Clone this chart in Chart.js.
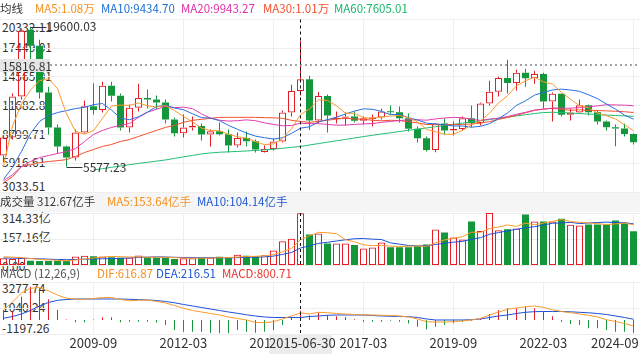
<!DOCTYPE html>
<html>
<head>
<meta charset="utf-8">
<script src="https://cdn.jsdelivr.net/npm/chart.js@4/dist/chart.umd.min.js"></script>
<style>
html,body{margin:0;padding:0;background:#fff}
body{position:relative;width:640px;height:354px;overflow:hidden;font-family:"Noto Sans CJK SC","Noto Sans",sans-serif}
.t{position:absolute;white-space:nowrap;font-size:12px;line-height:14px;color:#333;z-index:2}
canvas{position:absolute;left:0;z-index:1}
#band{position:absolute;left:0;top:192px;width:640px;height:20px;background:#f5f5f5;z-index:0}
</style>
</head>
<body>
<div id="band"></div>
<canvas id="cPrice" width="640" height="198" style="top:0px;width:640px;height:198px"></canvas>
<canvas id="cVol" width="640" height="62" style="top:206px;width:640px;height:62px"></canvas>
<canvas id="cMacd" width="640" height="62" style="top:276px;width:640px;height:62px"></canvas>
<script>
// ---------------- DATA ----------------
const quarters = ['2007-03','2007-06','2007-09','2007-12','2008-03','2008-06','2008-09','2008-12',
'2009-03','2009-06','2009-09','2009-12','2010-03','2010-06','2010-09','2010-12',
'2011-03','2011-06','2011-09','2011-12','2012-03','2012-06','2012-09','2012-12',
'2013-03','2013-06','2013-09','2013-12','2014-03','2014-06','2014-09','2014-12',
'2015-03','2015-06','2015-09','2015-12','2016-03','2016-06','2016-09','2016-12',
'2017-03','2017-06','2017-09','2017-12','2018-03','2018-06','2018-09','2018-12',
'2019-03','2019-06','2019-09','2019-12','2020-03','2020-06','2020-09','2020-12',
'2021-03','2021-06','2021-09','2021-12','2022-03','2022-06','2022-09','2022-12',
'2023-03','2023-06','2023-09','2023-12','2024-03','2024-06','2024-09'];

const openP = [6700,8500,12600,19300,17700,13000,9500,7600,6486,9000,
11630,11250,13700,12680,9500,11470,12460,12300,12000,10300,
8919,9500,9650,8800,9116,8820,7700,8450,8122,7050,
7343,8100,11015,13160,14338,10200,12665,10350,10490,10600,
10177,10350,10500,11100,11040,10440,9380,8420,7240,9906,
9190,9340,10431,9963,11900,13075,14471,13970,15000,14450,
14857,12100,12896,10778,11016,11726,11026,10110,9525,9400,8848];
const highP = [8700,12900,19400,19600.03,18300,13600,9800,7700,9300,12200,
13950,14100,14100,12900,11800,13900,13300,12700,12300,10500,
10800,10600,9900,9300,10000,9300,9000,9100,8300,7700,
8400,11200,13800,18211.76,14700,13050,12800,11100,11000,11100,
10600,10800,11400,11700,11600,10900,9600,8600,9950,10400,
10100,10600,11700,12000,14200,14600,16293,15300,15400,15200,
15000,13000,12900,11400,12300,11800,11200,10200,9800,9900,8900];
const lowP = [6300,8300,12300,16000,12400,8800,6900,5577.23,6200,8900,
10800,11000,12100,9200,9000,11100,11400,11300,9900,8600,
8500,9200,8200,7600,8700,7000,7500,7600,7000,7000,
7200,8000,10600,12700,9250,9900,9000,9900,9700,10000,
9800,9600,10300,10800,10000,9100,8000,7100,7011,8800,
8700,9200,9500,9700,11700,12600,12900,13200,13600,13900,
11400,10100,10600,10200,10900,10700,9800,9200,7627,8600,7800];
const closeP = [8500,12600,19200,17700,13000,9500,7600,6486,9000,11630,
11250,13700,12680,9500,11470,12460,12300,12000,10300,8919,
9500,9650,8800,9116,8820,7700,8450,8122,7300,7343,
8100,11015,13160,14338,10200,12665,10700,10490,10600,10177,
10429,10500,11100,11040,10440,9380,8420,7240,9906,9190,
9340,10431,9963,11900,13075,14471,13970,15000,14450,14857,
12100,12896,10778,11016,11726,11026,10110,9525,9400,8848,8020];

const ma5 = [5650,9650,11900,13250,14200,14400,13400,10857,9117,8843,
9193,10413,11652,11752,11720,11962,11682,11546,11706,11196,
10604,10074,9434,9197,9177,8817,8577,8442,8078,7783,
7863,8376,9384,10791,11363,12276,12213,11679,10931,10926,
10479,10439,10561,10649,10702,10492,10076,9304,9077,8827,
8819,9221,9766,10165,10942,11968,12676,13683,14193,14550,
14075,13861,13016,12329,11703,11488,10931,10681,10357,9782,9181];
const ma10 = [4300,5500,7100,8900,10100,10700,11000,11200,11400,11522,
11797,11907,11255,10435,10282,10578,11048,11599,11729,11458,
11283,10878,10490,10452,10187,9711,9326,8938,8638,8480,
8340,8477,8913,9435,9573,10069,10294,10531,10861,11145,
11377,11326,11120,10790,10814,10486,10258,9933,9863,9765,
9656,9649,9535,9621,9885,10394,10949,11725,12179,12746,
13022,13268,13350,13261,13126,12782,12396,11848,11343,10743,10335];
const ma20 = [4170,4770,5580,6090,6490,6690,6890,7090,7390,8100,
8800,9210,9510,9710,9910,10520,11030,11330,11630,11490,
11540,11392,10872,10443,10234,10144,10187,10268,10183,9969,
9812,9677,9701,9943,9880,9890,9810,9734,9749,9812,
9859,9901,10016,10112,10193,10277,10276,10232,10362,10455,
10517,10487,10327,10206,10349,10440,10603,10829,11021,11255,
11339,11458,11442,11441,11505,11588,11672,11787,11761,11744,11678];
const ma30 = [3960,4570,5580,5780,5980,6080,6180,6280,6590,6990,
7290,7600,7800,8100,8300,8600,8910,9210,9510,9710,
10020,10220,10320,10420,10520,10520,10520,10520,10520,10487,
10473,10420,10219,10107,10014,10119,10222,10356,10409,10361,
10333,10227,10174,10225,10191,10088,9959,9800,9787,9796,
9791,9817,9856,9949,10090,10316,10500,10729,10968,11218,
11352,11414,11335,11224,11275,11220,11201,11169,11129,11084,11004];
const ma60 = [null,null,null,null,null,null,null,null,null,null,
5230,5370,5510,5640,5770,5900,6010,6130,6250,6400,
6560,6700,6850,6950,7020,7060,7100,7150,7200,7260,
7330,7420,7510,7605,7750,7890,8030,8170,8310,8450,
8590,8720,8850,8970,9100,9220,9340,9460,9580,9700,
9820,9940,10060,10180,10300,10420,10540,10660,10780,10900,
11000,11030,11000,10950,10900,10850,10800,10750,10700,10660,10620];

const volume = [43,39,45,29,27,27,27,29,54,58,
56,54,50,46,48,60,46,46,46,39,
44,44,46,46,52,46,64,58,56,62,
90,145,160,312.67,185,191,132,132,132,122,
102,108,138,110,110,110,116,126,215,197,
167,155,264,206,314.33,211,217,221,305,264,
264,264,280,244,240,246,246,246,270,256,205];
const volMa5 = [52,50,47,42,36.6,33.4,31,27.8,32.8,39,
44.8,50.2,54.4,52.8,50.8,51.6,50,49.2,49.2,47.4,
44.2,43.8,43.8,43.8,46.4,46.8,50.8,53.2,55.2,57.2,
66,82.2,102.6,153.9,178.5,198.7,196.1,190.5,154.4,141.8,
124,119.2,120.4,116,113.6,115.2,116.8,114.4,135.4,152.8,
164.2,172,199.6,197.8,221.3,230.1,242.5,233.9,253.7,243.6,
254.2,263.6,275.4,263.2,258.4,254.8,251.2,244.4,249.6,252.8,244.6];
const volMa10 = [45,44,43,42,40,38,36,35,36,37.8,
39.1,40.6,41.1,42.8,44.9,48.2,50.1,51.8,51,49.1,
47.9,46.9,46.5,46.5,46.9,45.5,47.3,48.5,49.5,51.8,
56.4,66.5,77.9,104.6,117.9,132.4,139.2,146.6,154.2,160.2,
161.4,157.7,155.5,135.2,127.7,119.6,118,117.4,125.7,133.2,
139.7,144.4,157,166.6,187,197.1,207.2,216.7,225.7,232.4,
242.1,253,254.6,258.4,251,254.5,257.4,259.9,256.4,255.6,249.7];

const dif = [869,1558,2332,2737,2806,2504,2160,1876,1816,1790,
1859,1945,1945,1773,1670,1704,1730,1601,1472,1256,
1016,826,697,568,439,267,138,9,-207,-224,
-138,95,353,616.87,525,671,637,568,525,482,
439,439,413,396,353,267,95,-138,-164,-164,
-138,-77,9,155,439,697,929,1041,1153,1213,
1084,886,740,637,525,413,267,34,-120,-293,-508];
const dea = [155,310,525,826,1213,1515,1704,1773,1816,1816,
1816,1816,1816,1816,1790,1764,1730,1687,1601,1489,
1343,1213,1084,955,826,697,585,456,353,267,
224,224,224,216.51,310,353,413,439,439,439,
439,396,353,327,310,293,224,95,9,9,
9,9,34,95,224,353,439,568,671,723,
740,740,740,714,671,628,568,482,353,224,69];
const macdHist = [860,714,2014,2874,2737,1790,869,60,-190,-190,
40,240,240,-190,-150,-150,-150,-200,-420,-850,
-1000,-1000,-1000,-1080,-1140,-1140,-850,-1000,-1080,-1000,
-850,-420,240,800.71,400,640,430,340,260,80,
-150,-150,-150,-60,-150,-300,-570,-800,-570,-430,
-270,-150,-50,120,520,870,1010,1010,1150,1010,
720,340,-140,-340,-430,-710,-710,-860,-1000,-1000,-1080];

const priceTicks = [20332.11,17449.01,14565.91,11682.81,8799.71,5916.61,3033.51];
const volTicks = [314.33,157.16,0];
const macdTicks = [3277.74,1040.24,-1197.26];
const xTickIdx = [10,20,30,40,50,60,70];

const crossIdx = 33;
const crossDateLabel = '2015-06-30';
const crossPrice = 15816.81;

const legendPrice = [['均线','#333',0],['MA5:1.08万','#f7901e',35],['MA10:9434.70','#1d6fd8',101],['MA20:9943.27','#df2fa8',181],['MA30:1.01万','#f44f2c',263],['MA60:7605.01','#17b86a',334]];
const legendVol = [['成交量 312.67亿手','#333',0],['MA5:153.64亿手','#f7901e',107],['MA10:104.14亿手','#1d56d6',197]];
const legendMacd = [['MACD (12,26,9)','#555',0],['DIF:616.87','#f7901e',97],['DEA:216.51','#1d56d6',156],['MACD:800.71','#e8352c',222]];

// ---------------- STYLE ----------------
const RED = '#e41e26', GREEN = '#14963a';
const C_MA5 = '#fb9a2a', C_MA10 = '#2a6fdb', C_MA20 = '#e23cae', C_MA30 = '#f2502f', C_MA60 = '#21be74', C_BLUE2 = '#1f50d6';
const GRID = '#eeeeee';
const X_MIN = -3.5 / 9, X_MAX = X_MIN + 640 / 9;

const N = closeP.length;
const idx = Array.from({length: N}, (_, i) => i);
const isUp = i => closeP[i] >= openP[i];

function xAxis() {
  return { type: 'linear', min: X_MIN, max: X_MAX, offset: false,
    grid: { color: GRID, drawTicks: false, offset: false }, border: { display: false },
    ticks: { display: false }, afterBuildTicks: s => { s.ticks = xTickIdx.map(v => ({ value: v })); } };
}
function yAxis(ticks) {
  return { type: 'linear', min: ticks[ticks.length - 1], max: ticks[0], beginAtZero: false,
    grid: { color: GRID, drawTicks: false }, border: { display: false },
    ticks: { display: false }, afterBuildTicks: s => { s.ticks = ticks.map(v => ({ value: v })); } };
}
function lineDs(arr, color, order) {
  return { type: 'line', data: arr.map((v, i) => ({ x: i, y: v })), borderColor: color, borderWidth: 1,
    pointRadius: 0, tension: 0, fill: false, spanGaps: false, order: order === undefined ? 1 : order };
}
function barDs(data, opts) {
  return Object.assign({ type: 'bar', data, grouped: false, inflateAmount: 0, borderSkipped: false }, opts);
}
function vCross(chart) {
  const { ctx, chartArea: a, scales: { x } } = chart;
  const px = x.getPixelForValue(crossIdx);
  ctx.save();
  ctx.strokeStyle = '#111'; ctx.lineWidth = 1; ctx.setLineDash([3, 3]);
  ctx.beginPath(); ctx.moveTo(px, a.top); ctx.lineTo(px, a.bottom); ctx.stroke();
  ctx.restore();
}

const hiIdx = highP.indexOf(Math.max(...highP));
const loIdx = lowP.indexOf(Math.min(...lowP));

const priceOverlay = { id: 'priceOverlay', afterDatasetsDraw(chart) {
  const { ctx, chartArea: a, scales: { x, y } } = chart;
  ctx.save();
  const hy = Math.round(y.getPixelForValue(crossPrice));
  ctx.strokeStyle = '#a3a3a3'; ctx.lineWidth = 2; ctx.setLineDash([2, 3]);
  ctx.beginPath(); ctx.moveTo(50, hy); ctx.lineTo(a.right, hy); ctx.stroke();
  ctx.setLineDash([]); ctx.lineWidth = 1; ctx.strokeStyle = '#333';
  const hx = x.getPixelForValue(hiIdx), hyy = Math.round(y.getPixelForValue(highP[hiIdx])) + 0.5;
  ctx.beginPath(); ctx.moveTo(hx, hyy); ctx.lineTo(hx + 16, hyy); ctx.stroke();
  const lx = x.getPixelForValue(loIdx), lyy = Math.round(y.getPixelForValue(lowP[loIdx])) + 0.5;
  ctx.beginPath(); ctx.moveTo(lx, lyy); ctx.lineTo(lx + 16, lyy); ctx.stroke();
  ctx.restore();
  vCross(chart);
} };
const crossOnly = { id: 'crossOnly', afterDatasetsDraw(chart) { vCross(chart); } };

const common = { responsive: false, animation: false, devicePixelRatio: 1, events: [],
  plugins: { legend: { display: false }, tooltip: { enabled: false } } };

// ---------------- PRICE ----------------
const wickRed = [], wickGreen = [];
idx.forEach(i => {
  const top = Math.max(openP[i], closeP[i]), bot = Math.min(openP[i], closeP[i]);
  const tgt = isUp(i) ? wickRed : wickGreen;
  tgt.push({ x: i, y: [top, highP[i]] });
  tgt.push({ x: i, y: [lowP[i], bot] });
});
const bodyUp = idx.filter(isUp).map(i => ({ x: i, y: [openP[i], closeP[i]] }));
const bodyDn = idx.filter(i => !isUp(i)).map(i => ({ x: i, y: [closeP[i], openP[i]] }));

const priceChart = new Chart(document.getElementById('cPrice'), {
  type: 'bar',
  data: { datasets: [
    lineDs(ma5, C_MA5), lineDs(ma10, C_MA10), lineDs(ma20, C_MA20), lineDs(ma30, C_MA30), lineDs(ma60, C_MA60),
    barDs(bodyUp, { backgroundColor: 'rgba(0,0,0,0)', borderColor: RED, borderWidth: 1, barThickness: 7, minBarLength: 1, order: 2 }),
    barDs(bodyDn, { backgroundColor: GREEN, borderColor: GREEN, borderWidth: 0, barThickness: 7, minBarLength: 1, order: 2 }),
    barDs(wickRed, { backgroundColor: RED, borderWidth: 0, barThickness: 1, order: 3 }),
    barDs(wickGreen, { backgroundColor: GREEN, borderWidth: 0, barThickness: 1, order: 3 })
  ] },
  options: Object.assign({}, common, { layout: { padding: { top: 19.5, bottom: 6, left: 0, right: 0 } },
    scales: { x: xAxis(), y: yAxis(priceTicks) } }),
  plugins: [priceOverlay]
});

// ---------------- VOLUME ----------------
const volUp = idx.filter(isUp).map(i => ({ x: i, y: volume[i] }));
const volDn = idx.filter(i => !isUp(i)).map(i => ({ x: i, y: volume[i] }));
const volChart = new Chart(document.getElementById('cVol'), {
  type: 'bar',
  data: { datasets: [
    lineDs(volMa5, C_MA5), lineDs(volMa10, C_BLUE2),
    barDs(volUp, { backgroundColor: 'rgba(0,0,0,0)', borderColor: RED, borderWidth: 1, barThickness: 7, order: 2 }),
    barDs(volDn, { backgroundColor: GREEN, borderWidth: 0, barThickness: 7, order: 2 })
  ] },
  options: Object.assign({}, common, { layout: { padding: { top: 7, bottom: 2.5, left: 0, right: 0 } },
    scales: { x: xAxis(), y: yAxis(volTicks) } }),
  plugins: [crossOnly]
});

// ---------------- MACD ----------------
const histPos = idx.filter(i => macdHist[i] >= 0).map(i => ({ x: i, y: macdHist[i] }));
const histNeg = idx.filter(i => macdHist[i] < 0).map(i => ({ x: i, y: macdHist[i] }));
const macdChart = new Chart(document.getElementById('cMacd'), {
  type: 'bar',
  data: { datasets: [
    lineDs(dif, C_MA5), lineDs(dea, C_BLUE2),
    barDs(histPos, { backgroundColor: RED, borderWidth: 0, barThickness: 1, order: 2 }),
    barDs(histNeg, { backgroundColor: GREEN, borderWidth: 0, barThickness: 1, order: 2 })
  ] },
  options: Object.assign({}, common, { layout: { padding: { top: 6, bottom: 4, left: 0, right: 0 } },
    scales: { x: xAxis(), y: yAxis(macdTicks) } }),
  plugins: [crossOnly]
});

// ---------------- TEXT ----------------
function addText(txt, left, top, style) {
  const d = document.createElement('div');
  d.className = 't';
  d.textContent = txt;
  d.style.left = left + 'px';
  d.style.top = top + 'px';
  if (style) Object.assign(d.style, style);
  document.body.appendChild(d);
  return d;
}
function canvasTop(id) { return parseFloat(document.getElementById(id).style.top); }

// legends
legendPrice.forEach(([t, c, l]) => addText(t, l, 0.5, { color: c, fontSize: '11.5px' }));
legendVol.forEach(([t, c, l]) => addText(t, l, 193.7, { color: c, fontSize: '11.5px' }));
legendMacd.forEach(([t, c, l]) => addText(t, l, 265.5, { color: c, fontSize: '11.5px' }));

// y labels (below the canvas marks)
function yLabels(chart, ticks, fmt, offsets, cid) {
  const s = chart.scales.y, off = canvasTop(cid);
  ticks.forEach((v, k) => {
    const py = s.getPixelForValue(v) + off;
    const o = k === 0 ? offsets[0] : (k === ticks.length - 1 ? offsets[2] : offsets[1]);
    addText(fmt(v), 2, py + o, { zIndex: 0 });
  });
}
yLabels(priceChart, priceTicks, v => v.toFixed(2), [0, -8, -13], 'cPrice');
yLabels(volChart, volTicks, v => v === 0 ? '0.00' : v.toFixed(2) + '亿', [-2, -9, -7], 'cVol');
yLabels(macdChart, macdTicks, v => v.toFixed(2), [-1, -8, -13], 'cMacd');

// x labels
const xs = macdChart.scales.x;
xTickIdx.forEach(v => {
  const d = addText(quarters[v], 0, 336, { fontSize: '13px', lineHeight: '14px' });
  const w = d.offsetWidth;
  let left = xs.getPixelForValue(v) - w / 2;
  left = Math.max(0, Math.min(639 - w, left));
  d.style.left = left + 'px';
});

// crosshair labels
const ps = priceChart.scales;
const hyPix = Math.round(ps.y.getPixelForValue(crossPrice));
addText(crossPrice.toFixed(2), 0, hyPix - 6.5, { background: '#e6e6e6', width: '48px', height: '13px', lineHeight: '13px', paddingLeft: '2px', zIndex: 3 });
const cxPix = xs.getPixelForValue(crossIdx);
addText(crossDateLabel, cxPix - 31.5, 335, { background: '#ececec', width: '63px', height: '19px', lineHeight: '16px', textAlign: 'center', fontSize: '13px', zIndex: 3 });

// high / low annotations
addText(highP[hiIdx].toFixed(2), ps.x.getPixelForValue(hiIdx) + 16, ps.y.getPixelForValue(highP[hiIdx]) - 7.5, { zIndex: 3 });
addText(lowP[loIdx].toFixed(2), ps.x.getPixelForValue(loIdx) + 16.5, ps.y.getPixelForValue(lowP[loIdx]) - 7, { zIndex: 3 });
</script>
</body>
</html>
